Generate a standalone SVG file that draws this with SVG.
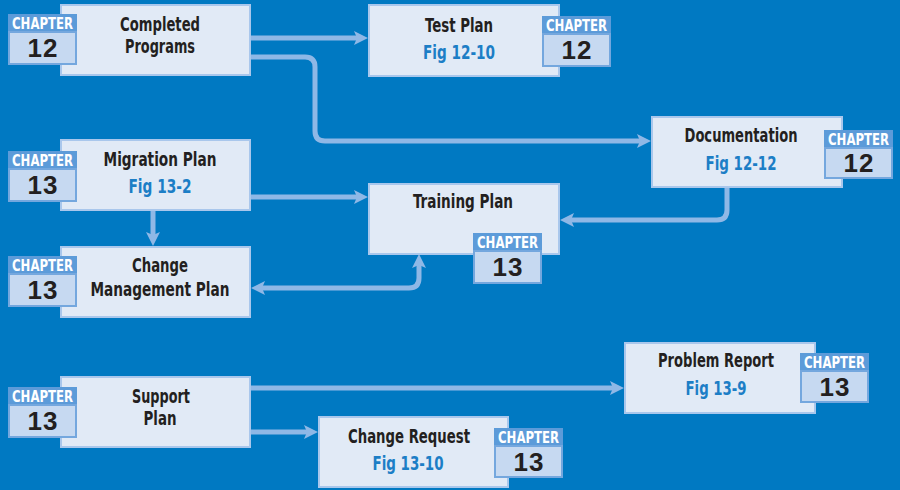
<svg xmlns="http://www.w3.org/2000/svg" width="900" height="490" viewBox="0 0 900 490">
<style>
.bg{fill:#0079C2}
.box{fill:#E1EAF6;stroke:#A9C7EC;stroke-width:2}
.hdr{fill:#5C9BD9}
.num{fill:#C6D9F1;stroke:#74A7DE;stroke-width:2}
.t{font-family:"Liberation Sans Narrow","DejaVu Sans Condensed","Liberation Sans",sans-serif;font-stretch:condensed;font-weight:bold;font-size:19px;fill:#231F20;text-anchor:middle}
.fig{fill:#1C7EC6}
.ch{font-family:"Liberation Sans Narrow","DejaVu Sans Condensed","Liberation Sans",sans-serif;font-stretch:condensed;font-weight:bold;font-size:15px;fill:#FFFFFF;text-anchor:middle}
.n{font-family:"Liberation Sans","Arial",sans-serif;font-weight:bold;font-size:26px;fill:#231F20;text-anchor:middle;letter-spacing:1px}
.c{fill:none;stroke:#8FB8E6;stroke-width:5}
</style>
<defs>
<marker id="ah" viewBox="0 0 14 14" markerWidth="14" markerHeight="14" markerUnits="userSpaceOnUse" refX="6" refY="7" orient="auto-start-reverse">
<path d="M0,0 L14,7 L0,14 L3,7 z" fill="#8FB8E6"/>
</marker>
</defs>
<rect class="bg" x="0" y="0" width="900" height="490"/>

<g id="connectors">
<path class="c" d="M251,38 H360" marker-end="url(#ah)"/>
<path class="c" d="M251,57 H305 Q315,57 315,67 V131 Q315,141 325,141 H643" marker-end="url(#ah)"/>
<path class="c" d="M251,197 H360" marker-end="url(#ah)"/>
<path class="c" d="M153,210 V238" marker-end="url(#ah)"/>
<path class="c" d="M727,187 V210 Q727,220 717,220 H568" marker-end="url(#ah)"/>
<path class="c" d="M259,288 H409 Q419,288 419,278 V262" marker-start="url(#ah)" marker-end="url(#ah)"/>
<path class="c" d="M251,388 H616" marker-end="url(#ah)"/>
<path class="c" d="M251,432 H310" marker-end="url(#ah)"/>
</g>

<g id="completed-programs">
<rect class="box" x="61" y="5" width="189" height="70"/>
<text class="t" x="160" y="31" textLength="80" lengthAdjust="spacingAndGlyphs">Completed</text>
<text class="t" x="160" y="53" textLength="70" lengthAdjust="spacingAndGlyphs">Programs</text>
<rect class="hdr" x="8" y="14" width="69" height="18"/>
<rect class="num" x="9" y="32" width="67" height="32"/>
<text class="ch" x="42.5" y="29" textLength="61" lengthAdjust="spacingAndGlyphs">CHAPTER</text>
<text class="n" x="43" y="57">12</text>
</g>

<g id="test-plan">
<rect class="box" x="369" y="5" width="190" height="71"/>
<text class="t" x="459" y="32" textLength="68" lengthAdjust="spacingAndGlyphs">Test Plan</text>
<text class="t fig" x="459" y="59" textLength="72" lengthAdjust="spacingAndGlyphs">Fig 12-10</text>
<rect class="hdr" x="542" y="16" width="69" height="18"/>
<rect class="num" x="543" y="34" width="67" height="32"/>
<text class="ch" x="576.5" y="31" textLength="61" lengthAdjust="spacingAndGlyphs">CHAPTER</text>
<text class="n" x="577" y="59">12</text>
</g>

<g id="documentation">
<rect class="box" x="652" y="117" width="190" height="70"/>
<text class="t" x="741" y="142" textLength="113" lengthAdjust="spacingAndGlyphs">Documentation</text>
<text class="t fig" x="741" y="170" textLength="71" lengthAdjust="spacingAndGlyphs">Fig 12-12</text>
<rect class="hdr" x="824" y="130" width="69" height="18"/>
<rect class="num" x="825" y="148" width="67" height="30"/>
<text class="ch" x="858.5" y="145" textLength="61" lengthAdjust="spacingAndGlyphs">CHAPTER</text>
<text class="n" x="859" y="172">12</text>
</g>

<g id="migration-plan">
<rect class="box" x="61" y="140" width="189" height="70"/>
<text class="t" x="160" y="166" textLength="113" lengthAdjust="spacingAndGlyphs">Migration Plan</text>
<text class="t fig" x="160" y="193" textLength="63" lengthAdjust="spacingAndGlyphs">Fig 13-2</text>
<rect class="hdr" x="8" y="151" width="69" height="18"/>
<rect class="num" x="9" y="169" width="67" height="32"/>
<text class="ch" x="42.5" y="166" textLength="61" lengthAdjust="spacingAndGlyphs">CHAPTER</text>
<text class="n" x="43" y="194">13</text>
</g>

<g id="change-management-plan">
<rect class="box" x="61" y="247" width="189" height="70"/>
<text class="t" x="160" y="272" textLength="56" lengthAdjust="spacingAndGlyphs">Change</text>
<text class="t" x="160" y="296" textLength="139" lengthAdjust="spacingAndGlyphs">Management Plan</text>
<rect class="hdr" x="8" y="256" width="69" height="18"/>
<rect class="num" x="9" y="274" width="67" height="32"/>
<text class="ch" x="42.5" y="271" textLength="61" lengthAdjust="spacingAndGlyphs">CHAPTER</text>
<text class="n" x="43" y="299">13</text>
</g>

<g id="training-plan">
<rect class="box" x="369" y="184" width="190" height="70"/>
<text class="t" x="463" y="208" textLength="100" lengthAdjust="spacingAndGlyphs">Training Plan</text>
<rect class="hdr" x="473" y="233" width="69" height="18"/>
<rect class="num" x="474" y="251" width="67" height="32"/>
<text class="ch" x="507.5" y="248" textLength="61" lengthAdjust="spacingAndGlyphs">CHAPTER</text>
<text class="n" x="508" y="276">13</text>
</g>

<g id="support-plan">
<rect class="box" x="61" y="377" width="189" height="70"/>
<text class="t" x="161" y="403" textLength="58" lengthAdjust="spacingAndGlyphs">Support</text>
<text class="t" x="160" y="425" textLength="33" lengthAdjust="spacingAndGlyphs">Plan</text>
<rect class="hdr" x="8" y="387" width="69" height="18"/>
<rect class="num" x="9" y="405" width="67" height="32"/>
<text class="ch" x="42.5" y="402" textLength="61" lengthAdjust="spacingAndGlyphs">CHAPTER</text>
<text class="n" x="43" y="430">13</text>
</g>

<g id="problem-report">
<rect class="box" x="625" y="343" width="190" height="70"/>
<text class="t" x="716" y="367" textLength="116" lengthAdjust="spacingAndGlyphs">Problem Report</text>
<text class="t fig" x="716" y="395" textLength="61" lengthAdjust="spacingAndGlyphs">Fig 13-9</text>
<rect class="hdr" x="800" y="353" width="69" height="18"/>
<rect class="num" x="801" y="371" width="67" height="31"/>
<text class="ch" x="834.5" y="368" textLength="61" lengthAdjust="spacingAndGlyphs">CHAPTER</text>
<text class="n" x="835" y="396">13</text>
</g>

<g id="change-request">
<rect class="box" x="319" y="417" width="189" height="70"/>
<text class="t" x="409" y="443" textLength="122" lengthAdjust="spacingAndGlyphs">Change Request</text>
<text class="t fig" x="408" y="470" textLength="71" lengthAdjust="spacingAndGlyphs">Fig 13-10</text>
<rect class="hdr" x="494" y="428" width="69" height="18"/>
<rect class="num" x="495" y="446" width="67" height="31"/>
<text class="ch" x="528.5" y="443" textLength="61" lengthAdjust="spacingAndGlyphs">CHAPTER</text>
<text class="n" x="529" y="471">13</text>
</g>
</svg>
